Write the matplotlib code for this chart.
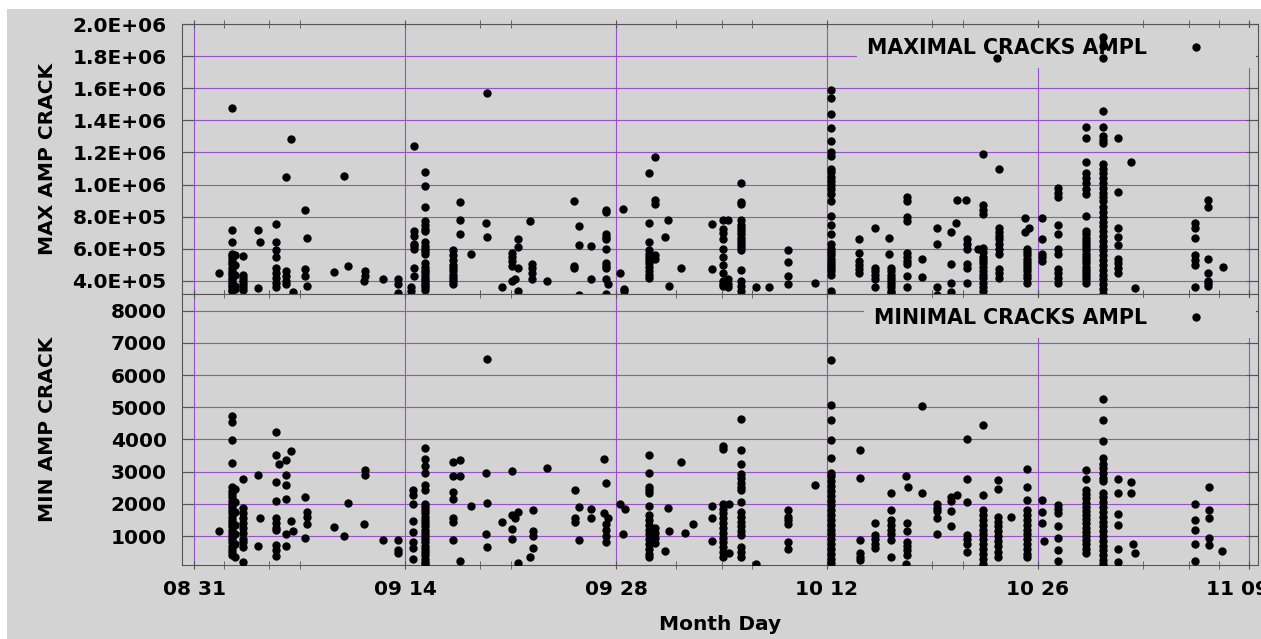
import datetime as dt
import matplotlib
matplotlib.use('Agg')
import matplotlib.pyplot as plt
import matplotlib.dates as mdates
from matplotlib.patches import Rectangle
from matplotlib.transforms import ScaledTranslation
from matplotlib.ticker import FuncFormatter, MultipleLocator

START = dt.datetime(2021, 8, 31)

# ---- maximal crack amplitude: column position (days after 08/31) and values (x1e5)
max_days = [1.66, 2.5, 2.7, 3.25, 4.25, 4.38, 5.47, 6.1, 6.44, 6.57, 7.37, 7.5,
            9.29, 9.95, 10.22, 11.35, 11.28, 12.54, 13.5, 14.4, 14.6, 15.33,
            17.19, 17.65, 18.38, 19.44, 19.4, 20.44, 21.1, 21.5, 21.3, 22.3, 22.43,
            23.42, 25.2, 25.55, 26.34, 27.34, 27.47, 28.27, 28.47, 28.53,
            30.19, 30.59, 31.25, 31.45, 31.52, 32.32, 34.37, 35.1, 35.43, 36.3,
            37.29, 38.16, 39.4, 41.21, 42.27,
            44.13, 45.19, 46.12, 46.25, 47.3, 48.31, 49.3, 50.23, 50.56, 50.63,
            51.23, 51.29, 52.02, 52.36, 53.29, 53.42, 55.14, 55.41, 55.3, 56.27,
            57.3, 59.19, 60.32, 61.3, 62.18, 62.44, 66.4, 67.3, 68.28]
max_vals = [
    [4.5],
    [14.75, 7.2, 6.45, 5.7, 5.55, 5.4, 5.2, 5.05, 4.8, 4.65, 4.5, 4.35, 4.2, 4.05,
     3.9, 3.75, 3.6, 3.45, 3.4],
    [5.6, 5.0, 4.4, 3.7, 3.5],
    [5.55, 4.4, 4.2, 4.0, 3.8, 3.6, 3.45],
    [7.15, 3.55],
    [6.45],
    [7.55, 6.45, 5.9, 5.5, 4.8, 4.5, 4.2, 3.9, 3.6],
    [10.5, 4.6, 4.3, 4.0, 3.8],
    [12.85],
    [3.3],
    [8.4, 4.75, 4.3],
    [6.7, 3.7],
    [4.55],
    [10.55],
    [4.95],
    [4.6, 4.3],
    [4.0],
    [4.1],
    [4.1, 3.8, 3.25],
    [3.6, 3.4],
    [12.4, 7.1, 6.8, 6.3, 6.15, 6.0, 4.8, 4.3],
    [10.8, 9.9, 8.6, 7.75, 7.5, 7.25, 7.1, 6.4, 6.2, 6.0, 5.85, 5.7, 5.1, 4.9, 4.7,
     4.55, 4.4, 4.2, 4.05, 3.9, 3.75, 3.6, 3.45],
    [5.9, 5.6, 5.3, 5.0, 4.8, 4.6, 4.4, 4.2, 4.0, 3.8],
    [8.9, 7.8, 6.9],
    [5.7],
    [15.7, 6.75],
    [7.6],
    [3.6],
    [5.75, 5.5, 5.25, 4.95, 4.0],
    [6.6, 6.1, 4.8, 3.4],
    [4.1],
    [7.75],
    [5.05, 4.8, 4.5, 4.1],
    [4.0],
    [8.95, 4.95, 4.8],
    [7.45, 6.25, 3.1],
    [6.2, 4.1],
    [8.3, 8.4, 6.9, 6.75, 6.6, 6.0, 5.1, 4.95, 4.8, 4.1, 3.2],
    [3.8],
    [4.5],
    [8.5],
    [3.4, 3.5],
    [10.7, 7.6, 6.45, 5.9, 5.7, 5.5, 5.3, 5.1, 4.9, 4.6, 4.4, 4.2],
    [11.7, 9.05, 8.8, 5.4, 5.6],
    [6.75],
    [7.8],
    [3.7],
    [4.8],
    [7.55, 4.75],
    [7.8, 7.25, 7.0, 6.6, 6.0, 5.5, 5.0, 4.5, 4.0, 3.8, 3.7],
    [7.8, 4.1, 3.8, 3.6],
    [10.1, 8.8, 8.9, 7.8, 7.5, 7.3, 7.1, 6.9, 6.7, 6.5, 6.3, 6.1, 5.9, 4.7, 4.0, 3.7, 3.4],
    [3.6],
    [3.6],
    [5.95, 5.2, 4.3, 3.8],
    [3.9],
    [15.9, 15.4, 14.4, 13.5, 12.7, 12.0, 11.8, 11.0, 10.8, 10.5, 10.2, 10.0, 9.7, 9.4,
     9.0, 8.05, 7.5, 6.95, 6.3, 6.0, 5.8, 5.6, 5.4, 5.2, 5.0, 4.8, 4.6, 4.4, 3.4, 3.25],
    [6.6, 5.75, 5.25, 5.0, 4.75, 4.5],
    [7.3, 4.8, 4.6, 4.4, 4.1, 3.6],
    [6.7, 5.7],
    [4.8, 4.6, 4.4, 4.2, 4.0, 3.8, 3.6, 3.4, 3.25],
    [9.2, 9.0, 8.0, 7.75, 5.75, 5.5, 5.25, 5.05, 4.3, 3.6],
    [5.4, 4.25],
    [7.3, 6.3, 3.6, 3.1],
    [7.05, 5.05, 3.9, 3.3],
    [7.6],
    [9.05],
    [9.05],
    [6.6, 6.3, 6.0, 5.05, 4.8, 3.9],
    [6.0],
    [11.9, 8.7, 8.4, 8.2, 6.05, 5.8, 5.5, 5.3, 5.1, 4.9, 4.6, 4.4, 4.2, 3.9, 3.6, 3.4],
    [17.9],
    [11.0, 7.3, 7.05, 6.8, 6.6, 6.3, 6.0, 5.7, 4.75, 4.5, 4.2],
    [7.9, 7.05],
    [7.3],
    [6.0, 5.8, 5.6, 5.4, 5.2, 5.0, 4.8, 4.6, 4.4, 4.2, 3.9],
    [7.9, 6.6, 5.7, 5.5, 5.25],
    [9.8, 9.5, 9.2, 7.5, 6.9, 6.0, 5.7, 4.75, 4.5, 4.2, 3.9],
    [13.6, 12.9, 11.4, 10.7, 10.4, 10.1, 9.7, 9.4, 8.05, 7.1, 6.9, 6.7, 6.5, 6.3, 6.1,
     5.9, 5.7, 5.5, 5.3, 5.1, 4.9, 4.7, 4.5, 4.3, 4.1, 3.9],
    [19.2, 18.6, 17.9, 14.6, 13.6, 13.0, 12.8, 12.6, 11.3, 11.0, 10.7, 10.4, 10.1, 9.8,
     9.5, 9.2, 9.0, 8.6, 8.3, 8.0, 7.7, 7.4, 7.1, 6.8, 6.5, 6.2, 5.9, 5.6, 5.3, 5.0,
     4.7, 4.4, 4.1, 3.8, 3.5, 3.2],
    [12.9, 9.55, 7.3, 6.75, 6.25, 5.4, 5.1, 4.8, 4.5],
    [11.4],
    [3.55],
    [7.6, 7.3, 6.7, 5.6, 5.3, 5.0, 3.6],
    [9.05, 8.6, 5.4, 4.5, 4.0, 3.85, 3.7],
    [4.9],
]

# ---- minimal crack amplitude
min_days = [1.66, 2.5, 2.7, 3.25, 4.25, 4.38, 5.47, 5.64, 6.1, 6.44, 6.57, 7.37, 7.5,
            9.29, 9.95, 10.22, 11.35, 11.28, 12.54, 13.54, 14.5, 15.33, 17.19, 17.65,
            18.38, 19.44, 19.4, 20.44, 21.1, 21.3, 21.5, 22.5, 22.3, 23.42, 25.28, 25.55,
            26.34, 27.2, 27.34, 27.47, 28.27, 28.6, 28.47, 30.19, 30.59, 31.45, 31.52,
            31.25, 32.32, 32.58, 33.11, 34.37, 35.1, 35.5, 36.3, 37.29, 39.4, 41.21, 42.27,
            44.19, 45.19, 46.25, 47.25, 47.38, 47.3, 48.31, 49.3, 50.23, 50.63, 51.29,
            52.36, 53.35, 54.2, 55.3, 56.27, 56.4, 57.35, 59.19, 60.32, 61.3, 62.2, 62.3,
            62.44, 66.4, 67.35, 68.2]
min_vals = [
    [1165],
    [4730, 4550, 3990, 3270, 2530, 2400, 2300, 2200, 2100, 2000, 1900, 1800, 1700, 1600,
     1500, 1400, 1300, 1200, 1100, 1000, 900, 800, 700, 600, 500, 400],
    [2450, 2050, 1750, 1350, 1050, 750, 350],
    [2760, 1860, 1700, 1550, 1400, 1250, 1100, 900, 800, 670, 200],
    [2895, 690],
    [1570],
    [4220, 3520, 2690, 2100, 1550, 1400, 1250, 1190, 720, 550, 390],
    [3230],
    [3360, 2895, 2585, 2140, 1060, 700],
    [3650, 1475],
    [1165],
    [2220, 950],
    [1755, 1600, 1370],
    [1270],
    [1010],
    [2015],
    [3050, 2900],
    [1360],
    [875],
    [875, 565, 460],
    [2430, 2275, 1985, 1465, 1115, 805, 635, 275],
    [3745, 3385, 3185, 2965, 2585, 2430, 2000, 1900, 1800, 1700, 1600, 1500, 1400, 1300,
     1200, 1100, 1000, 900, 800, 700, 600, 500, 400, 300, 200, 130],
    [3290, 2865, 2375, 2140, 1550, 1445, 875],
    [3360, 2865, 230],
    [1940],
    [6500, 2035, 650],
    [2965, 1055],
    [1425],
    [3010, 1655, 1210, 900],
    [1550],
    [1755, 170],
    [1810, 1165, 1010, 640],
    [340],
    [3120],
    [2430, 1550, 1445],
    [1910, 875],
    [1840, 1550],
    [3385, 1725],
    [2640, 1370, 1200, 1000, 800],
    [1570],
    [1985],
    [1845],
    [1055],
    [3515, 2965, 2530, 2430, 2325, 1930, 1650, 1500, 1350, 1200, 1050, 900, 750, 600,
     450, 360],
    [1240, 1100, 950, 775],
    [1875],
    [1165],
    [545],
    [3300],
    [1095],
    [1375],
    [1930, 1550, 845],
    [3790, 3710, 1985, 1850, 1700, 1550, 1400, 1250, 1100, 950, 800, 650, 500, 360],
    [2005, 460],
    [4645, 3670, 3225, 2940, 2800, 2650, 2530, 2430, 2050, 1750, 1600, 1450, 1300, 1150,
     1030, 670, 500, 360],
    [130],
    [1800, 1600, 1500, 1380, 825, 590],
    [2585],
    [6480, 5070, 4605, 3985, 3435, 2960, 2850, 2700, 2550, 2400, 2250, 2100, 1950, 1800,
     1650, 1500, 1350, 1200, 1050, 900, 750, 600, 450, 300, 170],
    [3660, 2790, 875, 460, 350, 255],
    [1405, 1030, 900, 750, 620],
    [2345, 1810, 1500, 1350, 1200, 1050, 875, 360],
    [2865, 130],
    [2530],
    [1405, 1165, 825, 700, 550, 410],
    [5040, 2325],
    [1985, 1880, 1780, 1550, 1055],
    [2220, 2100, 1780, 1300],
    [2275],
    [4015, 2760, 2045, 1030, 900, 750, 515],
    [4440, 2275, 1800, 1650, 1500, 1350, 1200, 1050, 900, 750, 600, 450, 300, 130],
    [2730, 2470, 1600, 1450, 1300, 1150, 1000, 850, 700, 500, 360],
    [1600],
    [3080, 2530, 2120, 1800, 1650, 1500, 1350, 1200, 1050, 900, 750, 600, 450, 360],
    [2120, 1755, 1405],
    [845],
    [1960, 1830, 1700, 1300, 940, 555, 215],
    [3050, 2760, 2430, 2300, 2170, 2040, 1910, 1780, 1650, 1520, 1390, 1260, 1130, 1000,
     870, 740, 610, 460],
    [5255, 4605, 3960, 3415, 3225, 3100, 2950, 2800, 2700, 2345, 2200, 2050, 1900, 1750,
     1600, 1450, 1300, 1150, 1000, 850, 700, 550, 400, 250, 130],
    [2770, 2325, 1670, 1330, 600, 185],
    [2690, 2325],
    [765],
    [460],
    [2005, 1490, 1195, 765, 230],
    [2525, 1800, 1550, 940, 735],
    [545],
]

x_ticks = ['2021-08-31', '2021-09-14', '2021-09-28', '2021-10-12', '2021-10-26', '2021-11-09']

BG = '#d3d3d3'
GRID = '#9a50c8'
SPINE = '#555555'
FS = 14.5


def flatten(days, vals, scale=1.0):
    xs, ys = [], []
    for d, col in zip(days, vals):
        for v in col:
            xs.append(START + dt.timedelta(days=d))
            ys.append(v * scale)
    return xs, ys


def style_axes(ax):
    ax.set_facecolor(BG)
    ax.set_axisbelow(True)
    ax.grid(True, which='major', color=GRID, linewidth=0.8)
    for s in ax.spines.values():
        s.set_color(SPINE)
    ax.set_xlim(START - dt.timedelta(days=0.8), START + dt.timedelta(days=70.6))
    ax.set_xticks([dt.datetime.strptime(t, '%Y-%m-%d') for t in x_ticks])
    ax.xaxis.set_minor_locator(mdates.DayLocator(bymonthday=[7, 21, 5, 19, 2]))
    ax.xaxis.set_major_formatter(mdates.DateFormatter('%m %d'))
    ax.tick_params(axis='x', which='both', direction='inout', length=6, top=True,
                   color=SPINE, pad=8, labelsize=FS)
    ax.tick_params(axis='y', which='major', direction='in', length=8.5, right=True,
                   color=SPINE, pad=11, labelsize=FS)
    for lab in ax.get_xticklabels() + ax.get_yticklabels():
        lab.set_fontweight('bold')


fig = plt.figure(figsize=(12.61, 6.39), dpi=100, facecolor='white')
fig.patches.append(Rectangle((7 / 1261, 0), 1 - 7 / 1261, 630 / 639,
                             transform=fig.transFigure, facecolor=BG,
                             edgecolor='none', zorder=-10))

ax1 = fig.add_axes([182 / 1261, 345 / 639, 1076 / 1261, 270 / 639])
ax2 = fig.add_axes([182 / 1261, 74 / 639, 1076 / 1261, 271 / 639], sharex=ax1)

mx, my = flatten(max_days, max_vals, 1e5)
nx, ny = flatten(min_days, min_vals)

ax1.plot(mx, my, 'o', ls='none', color='black', ms=5, zorder=3,
         label='MAXIMAL CRACKS AMPL')
ax2.plot(nx, ny, 'o', ls='none', color='black', ms=5, zorder=3,
         label='MINIMAL CRACKS AMPL')

ax1.set_ylim(3.19e5, 2.0e6)
ax1.yaxis.set_major_locator(MultipleLocator(2e5))
ax1.yaxis.set_major_formatter(FuncFormatter(lambda v, p: '{:.1E}'.format(v)))
ax2.set_ylim(99, 8519)
ax2.yaxis.set_major_locator(MultipleLocator(1000))

style_axes(ax1)
style_axes(ax2)
ax1.tick_params(axis='x', labelbottom=False)

# last date label is pushed left so it stays inside the canvas
last = ax2.get_xticklabels()[-1]
last.set_transform(last.get_transform() + ScaledTranslation(-12 / 100, 0, fig.dpi_scale_trans))

ax1.set_ylabel('MAX AMP CRACK', fontsize=FS, fontweight='bold')
ax2.set_ylabel('MIN AMP CRACK', fontsize=FS, fontweight='bold')
ax1.yaxis.set_label_coords(-0.116, 0.5)
ax2.yaxis.set_label_coords(-0.116, 0.5)
ax2.set_xlabel('Month Day', fontsize=FS, fontweight='bold', labelpad=11)

for ax in (ax1, ax2):
    leg = ax.legend(loc='upper right', bbox_to_anchor=(0.998, 0.987), markerfirst=False,
                    numpoints=1, handlelength=4.8, handletextpad=0.0, borderpad=0.5,
                    borderaxespad=0, fancybox=False, framealpha=1,
                    facecolor=BG, edgecolor='none',
                    prop={'weight': 'bold', 'size': 14.8})
    leg.set_zorder(2.5)

fig.savefig('out.png', dpi=100, facecolor=fig.get_facecolor())
plt.close(fig)
